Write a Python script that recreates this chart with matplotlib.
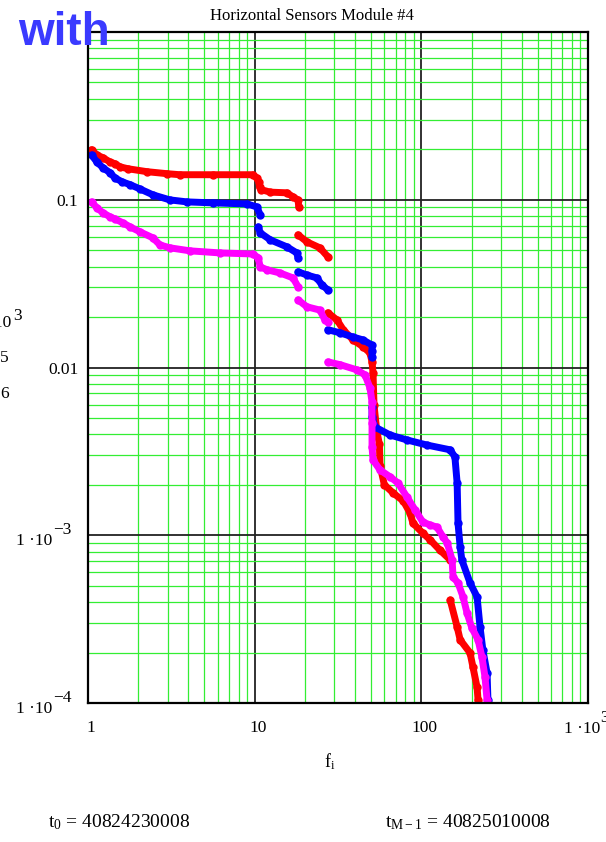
import numpy as np
import matplotlib
matplotlib.use('Agg')
import matplotlib.pyplot as plt
import matplotlib.transforms as mtransforms
from matplotlib.ticker import LogLocator, NullFormatter

plt.rcParams['font.family'] = ['Liberation Serif', 'DejaVu Serif']
plt.rcParams['mathtext.fontset'] = 'custom'
plt.rcParams['mathtext.rm'] = 'Liberation Serif'
plt.rcParams['mathtext.it'] = 'Liberation Serif:italic'

# curves, one list per unbroken piece
red_f = [
    [1.05, 1.13, 1.23, 1.355, 1.45, 1.56, 1.74, 2.26, 2.98, 3.56, 5.62, 9.77,
     10.3, 10.6, 10.7, 10.9, 12.4, 15.6, 17.0, 18.2, 18.4],
    [18.2, 20.6, 24.6, 27.5],
    [27.5, 31.2, 34.0, 38.9, 44.7, 49.2, 50.6, 51.3, 52.0, 54.0, 56.0, 56.5,
     60.0, 68.0, 78.0, 85.5, 89.1, 102, 113, 129, 149],
    [149, 164, 171, 196, 204, 216, 219],
]
red_v = [
    [0.199, 0.185, 0.178, 0.168, 0.164, 0.157, 0.153, 0.147, 0.143, 0.141, 0.141, 0.141,
     0.135, 0.128, 0.119, 0.115, 0.111, 0.110, 0.104, 0.0998, 0.0907],
    [0.0618, 0.0561, 0.0517, 0.0457],
    [0.0212, 0.0192, 0.0168, 0.0146, 0.0133, 0.0122, 0.0108, 0.0093, 0.0060, 0.0042, 0.0035, 0.0026,
     0.0020, 0.00178, 0.00160, 0.00136, 0.00118, 0.00103, 0.000938, 0.000817, 0.000713],
    [0.000411, 0.000284, 0.000238, 0.000199, 0.000164, 0.000124, 0.000104],
]

blue_f = [
    [1.05, 1.13, 1.23, 1.355, 1.45, 1.60, 1.79, 2.05, 2.45, 3.10, 3.93, 5.62, 9.0, 10.3, 10.8],
    [10.5, 10.8, 12.4, 15.6, 17.9, 18.2],
    [18.2, 20.6, 23.6, 25.3, 27.5],
    [27.5, 32.5, 38.9, 44.7, 50.6, 50.6, 50.6],
    [50.6, 50.6, 52.7, 64.9, 82, 108, 149, 159, 164, 166, 171, 175, 196, 216, 225, 234, 248, 251],
]
blue_v = [
    [0.185, 0.168, 0.155, 0.145, 0.135, 0.128, 0.123, 0.116, 0.107, 0.0998, 0.0971, 0.0958,
     0.0944, 0.0907, 0.0813],
    [0.0689, 0.0635, 0.0577, 0.0524, 0.0482, 0.0451],
    [0.0372, 0.0356, 0.0342, 0.0311, 0.0290],
    [0.0168, 0.0161, 0.0152, 0.0146, 0.0136, 0.0125, 0.0116],
    [0.00582, 0.00507, 0.00442, 0.00396, 0.00370, 0.00345, 0.00323, 0.00293, 0.00205, 0.00118,
     0.00085, 0.000713, 0.00052, 0.000429, 0.000284, 0.000207, 0.000151, 0.000104],
]

magenta_f = [
    [1.05, 1.13, 1.23, 1.355, 1.45, 1.62, 1.79, 2.05, 2.45, 2.70, 3.10, 4.09, 6.19, 9.77,
     10.5, 10.8, 11.9, 14.2, 17.0, 18.2],
    [18.2, 20.6, 24.6, 26.4, 27.5],
    [27.5, 32.5, 41.1, 45.9, 49.2, 50.6, 50.6, 50.6, 51.3, 56.5, 64.9, 72.4, 82, 91.6, 102,
     113, 124, 135, 143, 153, 155, 166, 178, 188, 201, 219, 231, 241, 248],
]
magenta_v = [
    [0.0971, 0.0895, 0.0836, 0.0791, 0.0769, 0.0728, 0.0689, 0.0644, 0.0593, 0.0538, 0.0517,
     0.0496, 0.0482, 0.0475, 0.0451, 0.0398, 0.0382, 0.0366, 0.0342, 0.0303],
    [0.0253, 0.0230, 0.0220, 0.0192, 0.0187],
    [0.0108, 0.0104, 0.00968, 0.00904, 0.00756, 0.00623, 0.00467, 0.00336, 0.00281, 0.00245,
     0.00223, 0.00205, 0.00169, 0.00142, 0.00120, 0.00115, 0.00112, 0.000977, 0.000900,
     0.000713, 0.000564, 0.00052, 0.000429, 0.000344, 0.00028, 0.000238, 0.000188,
     0.000143, 0.000104],
]

x_ticks = [1, 10, 100, 1000]
x_labels = ['1', '10', '100', '']
y_ticks = [1e-4, 1e-3, 1e-2, 1e-1]
y_labels = ['', '', '0.01', '0.1']
# Mathcad style "1 ·10" with a full size raised exponent
y_exp_ticks = [1e-4, 1e-3]
y_exp_powers = ['\u22124', '\u22123']

PX = 0.72  # points per pixel at dpi 100

fig = plt.figure(figsize=(6.06, 8.42), dpi=100)
ax = fig.add_axes([88 / 606, 139 / 842, 500 / 606, 671 / 842])
ax.set_xscale('log')
ax.set_yscale('log')
ax.set_xlim(1, 1000)
ax.set_ylim(1e-4, 1)

ax.xaxis.set_minor_locator(LogLocator(base=10, subs=np.arange(2, 10)))
ax.yaxis.set_minor_locator(LogLocator(base=10, subs=np.arange(2, 10)))
ax.xaxis.set_minor_formatter(NullFormatter())
ax.yaxis.set_minor_formatter(NullFormatter())
ax.grid(which='minor', color='#33ee33', lw=0.9)
ax.grid(which='major', color='#222222', lw=1.3)
ax.set_axisbelow(True)

for fs, vs in zip(red_f, red_v):
    ax.plot(fs, vs, '-o', color='#ff0000', lw=5.0, ms=5.0,
            solid_capstyle='round', solid_joinstyle='round')
for fs, vs in zip(blue_f, blue_v):
    ax.plot(fs, vs, '-o', color='#0000ff', lw=5.0, ms=5.0,
            solid_capstyle='round', solid_joinstyle='round')
for fs, vs in zip(magenta_f, magenta_v):
    ax.plot(fs, vs, '-o', color='#ff00ff', lw=5.0, ms=5.0,
            solid_capstyle='round', solid_joinstyle='round')

ax.set_xticks(x_ticks)
ax.set_xticklabels(x_labels)
ax.set_yticks(y_ticks)
ax.set_yticklabels(y_labels)
ax.tick_params(which='both', length=0, labelsize=12.5)
ax.tick_params(axis='x', pad=21)
ax.tick_params(axis='y', pad=7)
shift = mtransforms.ScaledTranslation(3 / 100, 0, fig.dpi_scale_trans)
for lbl in ax.get_xticklabels():
    lbl.set_va('baseline')
    lbl.set_transform(lbl.get_transform() + shift)
for sp in ax.spines.values():
    sp.set_linewidth(1.6)
    sp.set_color('black')

for v, p in zip(y_exp_ticks, y_exp_powers):
    ax.annotate('1 \u00b710', xy=(0, v), xycoords=('axes fraction', 'data'),
                xytext=(-36 * PX, -4 * PX), textcoords='offset points',
                ha='right', va='center_baseline', fontsize=12.5, annotation_clip=False)
    ax.annotate(p, xy=(0, v), xycoords=('axes fraction', 'data'),
                xytext=(-35 * PX, 7 * PX), textcoords='offset points',
                ha='left', va='center_baseline', fontsize=12.5, annotation_clip=False)

ax.annotate('1 \u00b710', xy=(1000, 0), xycoords=('data', 'axes fraction'),
            xytext=(-24 * PX, -30 * PX), textcoords='offset points',
            ha='left', va='baseline', fontsize=12.5, annotation_clip=False)
ax.annotate('3', xy=(1000, 0), xycoords=('data', 'axes fraction'),
            xytext=(12 * PX, -19 * PX), textcoords='offset points',
            ha='left', va='baseline', fontsize=12.5, annotation_clip=False)

fig.text(312 / 606, 1 - 20 / 842, 'Horizontal Sensors Module #4', ha='center',
         va='baseline', fontsize=12)
fig.text(330 / 606, 1 - 767 / 842, r'$\mathrm{f}_{\mathrm{i}}$', ha='center',
         va='baseline', fontsize=13)
fig.text(48 / 606, 1 - 827 / 842, r'$\mathrm{t}_{0}$ = 40824230008', ha='left',
         va='baseline', fontsize=14)
fig.text(385 / 606, 1 - 827 / 842, r'$\mathrm{t}_{\mathrm{M-1}}$ = 40825010008', ha='left',
         va='baseline', fontsize=14)

# clipped pieces of neighbouring text at the left edge
fig.text(11 / 606, 1 - 327 / 842, '1 \u00b710', ha='right', va='baseline', fontsize=12.5)
fig.text(13 / 606, 1 - 320 / 842, '3', ha='left', va='baseline', fontsize=12.5)
fig.text(9 / 606, 1 - 362 / 842, '5', ha='right', va='baseline', fontsize=12.5)
fig.text(9 / 606, 1 - 398 / 842, '6', ha='right', va='baseline', fontsize=12.5)

fig.text(18 / 606, 1 - 45 / 842, 'with', ha='left', va='baseline', fontsize=33,
         family='Liberation Sans', fontweight='bold', color='#3a3aff', zorder=10)

fig.savefig('out.png', dpi=100)
